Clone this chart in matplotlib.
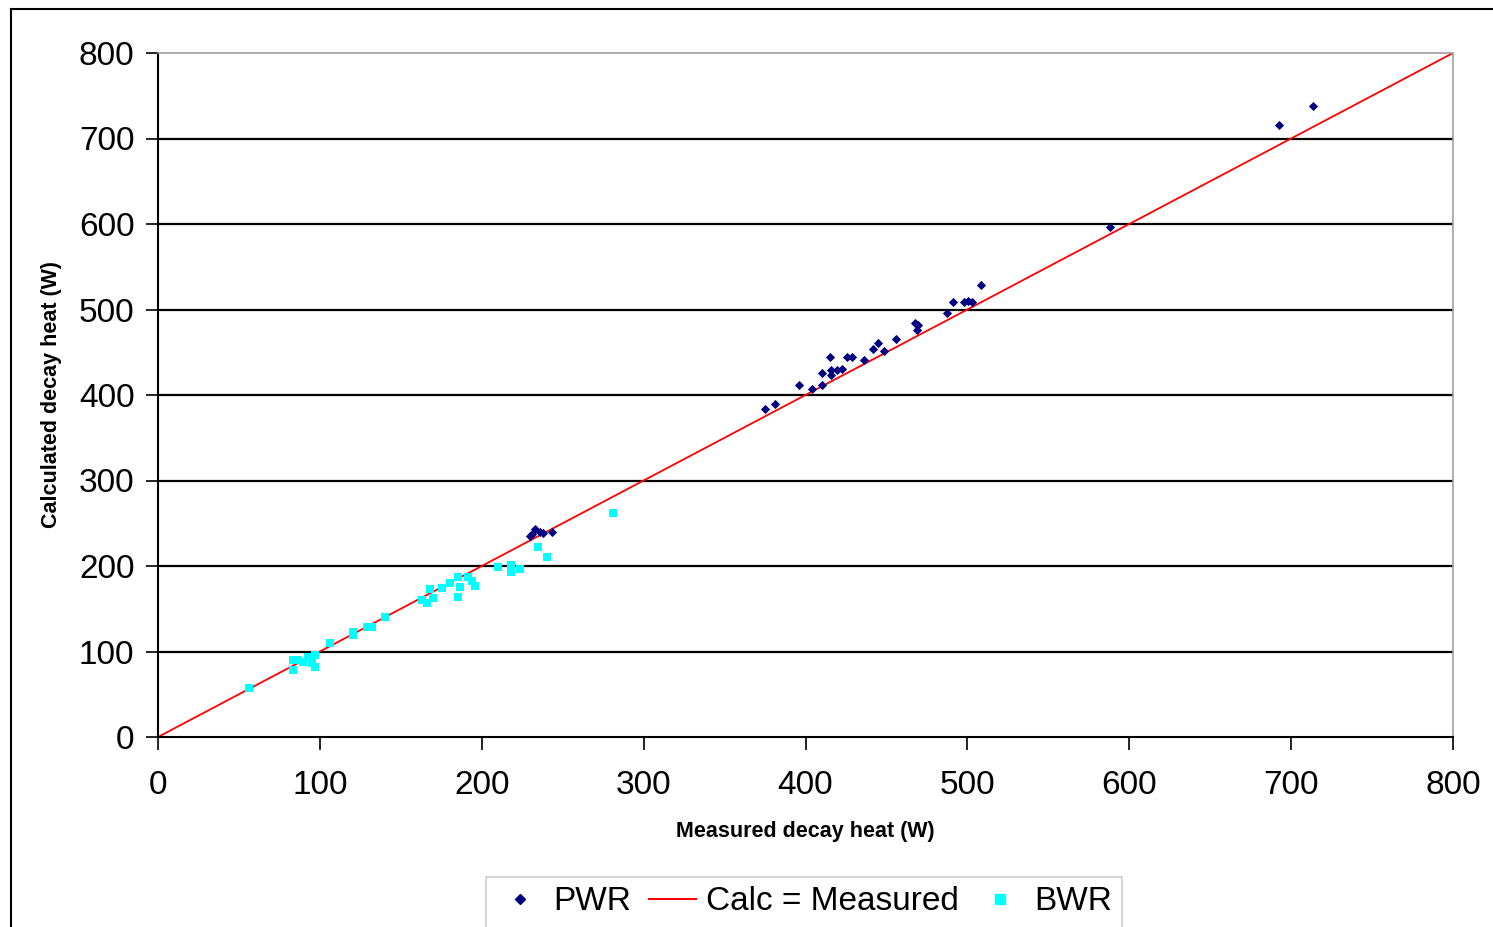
import numpy as np
import matplotlib.pyplot as plt
from matplotlib.lines import Line2D

plt.rcParams['font.family'] = ['Liberation Sans', 'DejaVu Sans']

# PWR assemblies: measured vs calculated decay heat (W)
pwr_measured = [229.8, 230.8, 232.9, 236.0, 238.0, 243.2,
                374.9, 381.0, 396.0, 404.0, 410.0, 410.0, 415.0, 416.0, 416.0,
                419.4, 422.5, 425.6, 429.0, 436.0, 441.6, 445.0, 448.4, 455.8,
                467.6, 469.4, 468.8, 487.3, 491.0, 497.8, 500.3, 502.8, 508.3,
                588.0, 692.4, 713.4]
pwr_calculated = [235.4, 237.4, 243.0, 240.0, 239.0, 239.4,
                  383.6, 389.5, 411.7, 407.0, 411.7, 425.7, 444.4, 429.0, 423.0,
                  429.0, 430.0, 444.4, 444.4, 441.0, 453.8, 460.8, 451.5, 465.5,
                  484.0, 481.9, 476.0, 495.9, 508.8, 508.8, 510.0, 508.8, 528.7,
                  596.5, 715.8, 738.0]

# BWR assemblies
bwr_measured = [56.4, 83.6, 83.6, 86.7, 89.7, 92.8, 97.0, 97.0, 94.9, 106.2,
                120.6, 120.6, 128.9, 132.0, 140.2, 162.9, 166.3, 168.0, 170.0,
                175.2, 180.4, 185.5, 185.5, 186.5, 191.7, 193.7, 195.8,
                210.2, 217.8, 217.8, 223.6, 235.0, 240.4, 281.3]
bwr_calculated = [57.7, 78.4, 90.0, 90.0, 88.0, 94.0, 96.0, 82.3, 86.2, 110.3,
                  119.3, 123.0, 128.3, 128.3, 140.0, 160.2, 156.3, 172.7, 162.2,
                  173.9, 180.5, 187.5, 164.0, 175.8, 187.5, 182.8, 176.6,
                  198.5, 201.0, 193.3, 196.0, 221.8, 210.9, 261.6]

ticks = [0, 100, 200, 300, 400, 500, 600, 700, 800]

fig = plt.figure(figsize=(14.93, 9.27), dpi=100)
fig.patch.set_facecolor('white')

# outer chart border (cut off at right and bottom)
fig.add_artist(Line2D([11/1493, 1], [1 - 9/927, 1 - 9/927], color='black', lw=1.5,
                      transform=fig.transFigure))
fig.add_artist(Line2D([11/1493, 11/1493], [0, 1 - 9/927], color='black', lw=1.5,
                      transform=fig.transFigure))

ax = fig.add_axes([158/1493, 1 - 737/927, 1295/1493, 684/927])

for t in ticks[1:-1]:
    ax.axhline(t, color='black', lw=1.6, zorder=1)

ax.plot(ticks, ticks, color='red', lw=1.3, zorder=2, label='Calc = Measured')
ax.scatter(pwr_measured, pwr_calculated, marker='D', s=22, color='#000080',
           linewidths=0, zorder=3, label='PWR')
ax.scatter(bwr_measured, bwr_calculated, marker='s', s=40, color='cyan',
           linewidths=0, zorder=3, label='BWR')

ax.set_xlim(0, 800)
ax.set_ylim(0, 800)
ax.set_xticks(ticks)
ax.set_yticks(ticks)
ax.tick_params(axis='both', direction='out', length=9, width=1.2, labelsize=24)
ax.tick_params(axis='y', pad=8)
ax.tick_params(axis='x', pad=15)

for side in ['top', 'right']:
    ax.spines[side].set_color('#a0a0a0')
    ax.spines[side].set_linewidth(1.2)
for side in ['left', 'bottom']:
    ax.spines[side].set_color('black')
    ax.spines[side].set_linewidth(1.5)

ax.set_xlabel('Measured decay heat (W)', fontsize=15.5, fontweight='bold', labelpad=14)
ax.set_ylabel('Calculated decay heat (W)', fontsize=15.5, fontweight='bold', labelpad=12)

handles = [
    Line2D([], [], marker='D', color='#000080', ls='none', markersize=5),
    Line2D([], [], color='red', lw=1.5),
    Line2D([], [], marker='s', color='cyan', ls='none', markersize=7),
]
labels = ['PWR', 'Calc = Measured', 'BWR']
leg = fig.legend(handles, labels, ncol=3, loc='center',
                 bbox_to_anchor=(804/1493, 1 - 902/927), fontsize=24,
                 frameon=True, fancybox=False, handlelength=1.4,
                 handletextpad=0.3, columnspacing=0.55, borderpad=0.3)
leg.get_frame().set_edgecolor('#c0c0c0')
leg.get_frame().set_linewidth(1.2)

fig.savefig('out.png', dpi=100)
